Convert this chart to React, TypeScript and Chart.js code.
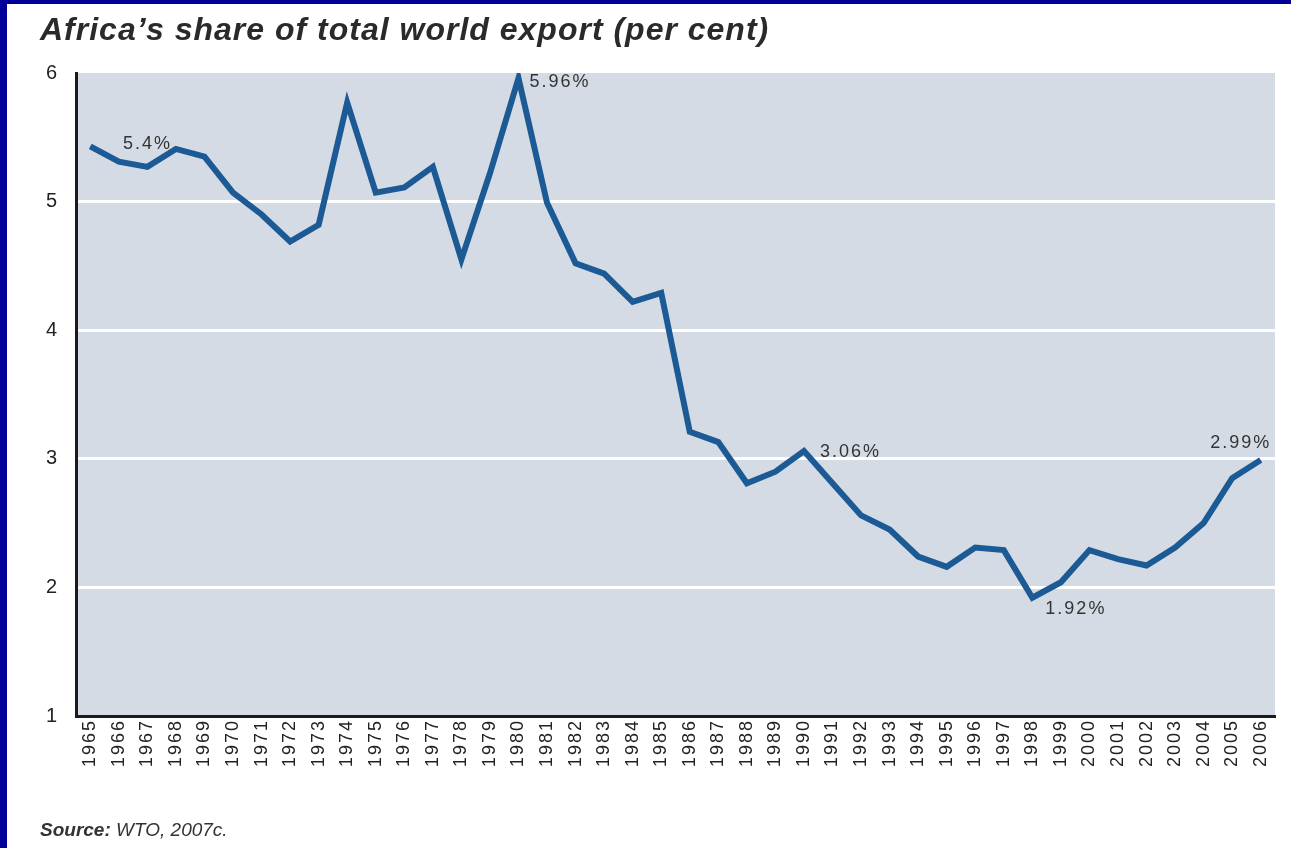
import React, { useEffect, useRef } from "react";
import { Chart, registerables } from "chart.js";

Chart.register(...registerables);

const years: string[] = [
  "1965", "1966", "1967", "1968", "1969", "1970", "1971", "1972", "1973", "1974",
  "1975", "1976", "1977", "1978", "1979", "1980", "1981", "1982", "1983", "1984",
  "1985", "1986", "1987", "1988", "1989", "1990", "1991", "1992", "1993", "1994",
  "1995", "1996", "1997", "1998", "1999", "2000", "2001", "2002", "2003", "2004",
  "2005", "2006",
];

const shareValues: number[] = [
  5.43, 5.31, 5.27, 5.41, 5.35, 5.07, 4.9, 4.69, 4.82, 5.77,
  5.07, 5.11, 5.27, 4.55, 5.22, 5.96, 4.99, 4.52, 4.44, 4.22,
  4.29, 3.21, 3.13, 2.81, 2.9, 3.06, 2.81, 2.56, 2.45, 2.24,
  2.16, 2.31, 2.29, 1.92, 2.04, 2.29, 2.22, 2.17, 2.31, 2.5,
  2.85, 2.99,
];

const yTicks: number[] = [1, 2, 3, 4, 5, 6];

const annotatedIndices: number[] = [3, 15, 25, 33, 41];
const annotationTexts: string[] = ["5.4%", "5.96%", "3.06%", "1.92%", "2.99%"];

const annotationStyle: { dx: number; dy: number; align: CanvasTextAlign }[] = [
  { dx: -4, dy: -5, align: "right" },
  { dx: 11, dy: 4, align: "left" },
  { dx: 16, dy: 1, align: "left" },
  { dx: 13, dy: 11, align: "left" },
  { dx: -20, dy: -17, align: "center" },
];

const FONT = "'Liberation Sans', Arial, Helvetica, sans-serif";

export default function App() {
  const canvasRef = useRef<HTMLCanvasElement | null>(null);

  useEffect(() => {
    document.body.style.margin = "0";
    const canvas = canvasRef.current;
    if (!canvas) return;

    const plotBg = {
      id: "plotBg",
      beforeDraw(chart: any) {
        const { ctx, chartArea } = chart;
        ctx.save();
        ctx.fillStyle = "#d5dbe4";
        ctx.fillRect(chartArea.left, chartArea.top, chartArea.right - chartArea.left, chartArea.bottom - chartArea.top);
        ctx.restore();
        try { (ctx as any).letterSpacing = "2px"; } catch (e) {}
      },
    };

    const labelsPlugin = {
      id: "pointLabels",
      afterDatasetsDraw(chart: any) {
        const { ctx } = chart;
        const meta = chart.getDatasetMeta(0);
        ctx.save();
        ctx.font = `18px ${FONT}`;
        ctx.fillStyle = "#333333";
        ctx.textBaseline = "middle";
        try { (ctx as any).letterSpacing = "2px"; } catch (e) {}
        annotatedIndices.forEach((idx, i) => {
          const pt = meta.data[idx];
          const st = annotationStyle[i];
          ctx.textAlign = st.align;
          ctx.fillText(annotationTexts[i], pt.x + st.dx, pt.y + st.dy);
        });
        ctx.restore();
      },
    };

    const chart = new Chart(canvas, {
      type: "line",
      data: {
        labels: years,
        datasets: [
          {
            data: shareValues,
            borderColor: "#1b5a94",
            borderWidth: 6,
            pointRadius: 0,
            tension: 0,
            borderJoinStyle: "miter",
            borderCapStyle: "butt",
            fill: false,
          },
        ],
      },
      options: {
        animation: false,
        responsive: false,
        maintainAspectRatio: false,
        layout: { padding: { left: 0, top: 73, right: 16, bottom: 72 } },
        plugins: {
          legend: { display: false },
          tooltip: { enabled: false },
          title: { display: false },
        },
        scales: {
          x: {
            type: "category",
            offset: true,
            grid: { display: false, drawTicks: false },
            border: { display: true, color: "#1a1a1a", width: 3 },
            ticks: {
              minRotation: 90,
              maxRotation: 90,
              autoSkip: false,
              padding: 3,
              color: "#222222",
              font: { family: FONT, size: 18 },
            },
            afterFit(scale: any) {
              scale.height = 60;
            },
          },
          y: {
            min: 1,
            max: 6,
            afterBuildTicks(scale: any) {
              scale.ticks = yTicks.map((v) => ({ value: v }));
            },
            grid: {
              color: (ctx: any) => (ctx.tick && (ctx.tick.value === 1 || ctx.tick.value === 6) ? "rgba(0,0,0,0)" : "#ffffff"),
              lineWidth: 3,
              drawTicks: false,
            },
            border: { display: true, color: "#1a1a1a", width: 3 },
            ticks: {
              padding: 17,
              color: "#222222",
              font: { family: FONT, size: 20 },
              callback: (v: any) => String(v),
            },
            afterFit(scale: any) {
              scale.width = 76;
            },
          },
        },
      },
      plugins: [plotBg, labelsPlugin],
    });

    return () => chart.destroy();
  }, []);

  return (
    <div
      style={{
        position: "absolute",
        left: 0,
        top: 0,
        width: 1291,
        height: 848,
        background: "#ffffff",
        overflow: "hidden",
      }}
    >
      <div style={{ position: "absolute", left: 0, top: 0, width: 1291, height: 4, background: "#000099" }} />
      <div style={{ position: "absolute", left: 0, top: 0, width: 7, height: 848, background: "#000099" }} />
      <canvas ref={canvasRef} width={1291} height={848} style={{ position: "absolute", left: 0, top: 0 }} />
      <div
        style={{
          position: "absolute",
          left: 40,
          top: 11,
          fontFamily: FONT,
          fontSize: 32,
          fontWeight: "bold",
          fontStyle: "italic",
          letterSpacing: "1px",
          color: "#2a2a2a",
          whiteSpace: "nowrap",
          lineHeight: "37px",
        }}
      >
        Africa’s share of total world export (per cent)
      </div>
      <div
        style={{
          position: "absolute",
          left: 40,
          top: 818,
          fontFamily: FONT,
          fontSize: 19,
          fontStyle: "italic",
          color: "#333333",
          whiteSpace: "nowrap",
          lineHeight: "24px",
        }}
      >
        <span style={{ fontWeight: "bold" }}>Source:</span> WTO, 2007c.
      </div>
    </div>
  );
}
